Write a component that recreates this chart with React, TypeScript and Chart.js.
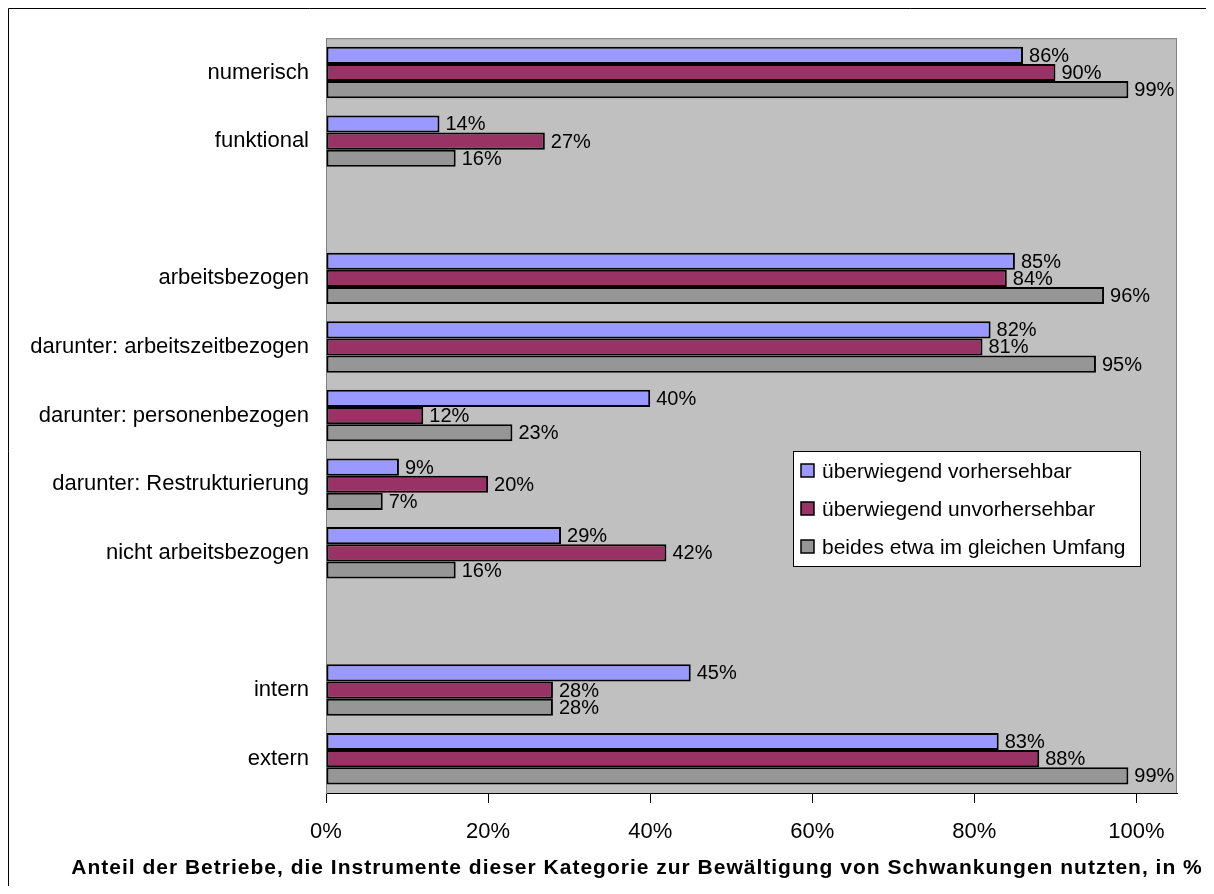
import React, { useEffect, useRef } from "react";
import { Chart, registerables } from "chart.js";

Chart.register(...registerables);

// Instrument categories (empty strings are spacer rows between groups)
const categories: string[] = [
  "numerisch",
  "funktional",
  "",
  "arbeitsbezogen",
  "darunter: arbeitszeitbezogen",
  "darunter: personenbezogen",
  "darunter: Restrukturierung",
  "nicht arbeitsbezogen",
  "",
  "intern",
  "extern",
];

const seriesNames: string[] = [
  "überwiegend vorhersehbar",
  "überwiegend unvorhersehbar",
  "beides etwa im gleichen Umfang",
];

const vorhersehbar: (number | null)[] = [86, 14, null, 85, 82, 40, 9, 29, null, 45, 83];
const unvorhersehbar: (number | null)[] = [90, 27, null, 84, 81, 12, 20, 42, null, 28, 88];
const beides: (number | null)[] = [99, 16, null, 96, 95, 23, 7, 16, null, 28, 99];

const seriesColors: string[] = ["#9999FF", "#993366", "#969696"];

const xTicks: number[] = [0, 20, 40, 60, 80, 100];
const xMax = 105;

const axisTitle =
  "Anteil der Betriebe, die Instrumente dieser Kategorie zur Bewältigung von Schwankungen nutzten, in %";

const FONT = "'Liberation Sans', Arial, sans-serif";

const W = 1204;
const H = 886;

// Frame, plot background, value labels, legend box and axis title
const decorations = {
  id: "decorations",
  beforeDraw(chart: any) {
    const { ctx, chartArea } = chart;
    ctx.save();
    ctx.fillStyle = "#ffffff";
    ctx.fillRect(0, 0, W, H);
    ctx.strokeStyle = "#000";
    ctx.lineWidth = 1;
    ctx.beginPath();
    ctx.moveTo(0.5, H + 2);
    ctx.lineTo(0.5, 0.5);
    ctx.lineTo(W - 0.5, 0.5);
    ctx.lineTo(W - 0.5, H + 2);
    ctx.stroke();

    const { left, top, right, bottom } = chartArea;
    ctx.fillStyle = "#C0C0C0";
    ctx.fillRect(left, top, right - left, bottom - top);
    ctx.strokeStyle = "#808080";
    ctx.strokeRect(left + 0.5, top + 0.5, right - left - 1, bottom - top);
    ctx.restore();
  },
  afterDraw(chart: any) {
    const { ctx } = chart;
    ctx.save();
    // value labels
    ctx.font = `20px ${FONT}`;
    ctx.fillStyle = "#000";
    ctx.textAlign = "left";
    ctx.textBaseline = "middle";
    chart.data.datasets.forEach((ds: any, di: number) => {
      const meta = chart.getDatasetMeta(di);
      meta.data.forEach((el: any, i: number) => {
        const v = ds.data[i];
        if (v === null || v === undefined) return;
        ctx.fillText(`${v}%`, el.x + 6, el.y + 1);
      });
    });

    // legend
    const lx = 785;
    const ly = 443;
    const lw = 347;
    const lh = 115;
    ctx.fillStyle = "#ffffff";
    ctx.fillRect(lx, ly, lw, lh);
    ctx.strokeStyle = "#000";
    ctx.lineWidth = 1;
    ctx.strokeRect(lx + 0.5, ly + 0.5, lw, lh);
    ctx.font = `21px ${FONT}`;
    chart.data.datasets.forEach((ds: any, di: number) => {
      const cy = ly + 20 + di * 38;
      ctx.fillStyle = ds.backgroundColor;
      ctx.fillRect(lx + 8, cy - 7, 13, 13);
      ctx.lineWidth = 1.5;
      ctx.strokeStyle = "#000";
      ctx.strokeRect(lx + 8, cy - 7, 13, 13);
      ctx.fillStyle = "#000";
      ctx.textBaseline = "middle";
      ctx.fillText(ds.label, lx + 29, cy + 1);
    });

    // axis title
    ctx.font = `bold 21px ${FONT}`;
    (ctx as any).letterSpacing = "1px";
    ctx.textAlign = "center";
    ctx.textBaseline = "middle";
    ctx.fillStyle = "#000";
    ctx.fillText(axisTitle, 629, 860);
    ctx.restore();
  },
};

export default function App() {
  const canvasRef = useRef<HTMLCanvasElement | null>(null);

  useEffect(() => {
    document.documentElement.style.overflow = "hidden";
    if (!canvasRef.current) return;
    const chart = new Chart(canvasRef.current, {
      type: "bar",
      data: {
        labels: categories,
        datasets: [vorhersehbar, unvorhersehbar, beides].map((d, i) => ({
          label: seriesNames[i],
          data: d,
          backgroundColor: seriesColors[i],
          borderColor: "#000",
          borderWidth: 2,
          borderSkipped: false,
          categoryPercentage: 0.75,
          barPercentage: 1,
        })),
      },
      options: {
        indexAxis: "y",
        responsive: false,
        maintainAspectRatio: false,
        devicePixelRatio: 1,
        animation: false,
        layout: { padding: { top: 26, right: 35, left: 0, bottom: 0 } },
        plugins: {
          legend: { display: false },
          tooltip: { enabled: false },
          title: { display: false },
        },
        scales: {
          x: {
            type: "linear",
            min: 0,
            max: xMax,
            afterBuildTicks: (scale: any) => {
              scale.ticks = xTicks.map((v) => ({ value: v }));
            },
            afterFit: (scale: any) => {
              scale.height = 101;
            },
            grid: {
              display: true,
              drawOnChartArea: false,
              drawTicks: true,
              tickLength: 10,
              color: "#000",
            },
            border: { display: true, color: "#000" },
            ticks: {
              callback: (v: any) => `${v}%`,
              font: { family: FONT, size: 22 },
              color: "#000",
              padding: 16,
              maxRotation: 0,
            },
          },
          y: {
            type: "category",
            afterFit: (scale: any) => {
              scale.width = 318;
            },
            grid: { display: false, drawTicks: false },
            border: { display: true, color: "#808080" },
            ticks: {
              font: { family: FONT, size: 22 },
              color: "#000",
              padding: 17,
              autoSkip: false,
            },
          },
        },
      },
      plugins: [decorations],
    });
    return () => chart.destroy();
  }, []);

  return (
    <div style={{ width: W, height: H, marginBottom: -8 }}>
      <canvas ref={canvasRef} width={W} height={H} style={{ display: "block" }} />
    </div>
  );
}
